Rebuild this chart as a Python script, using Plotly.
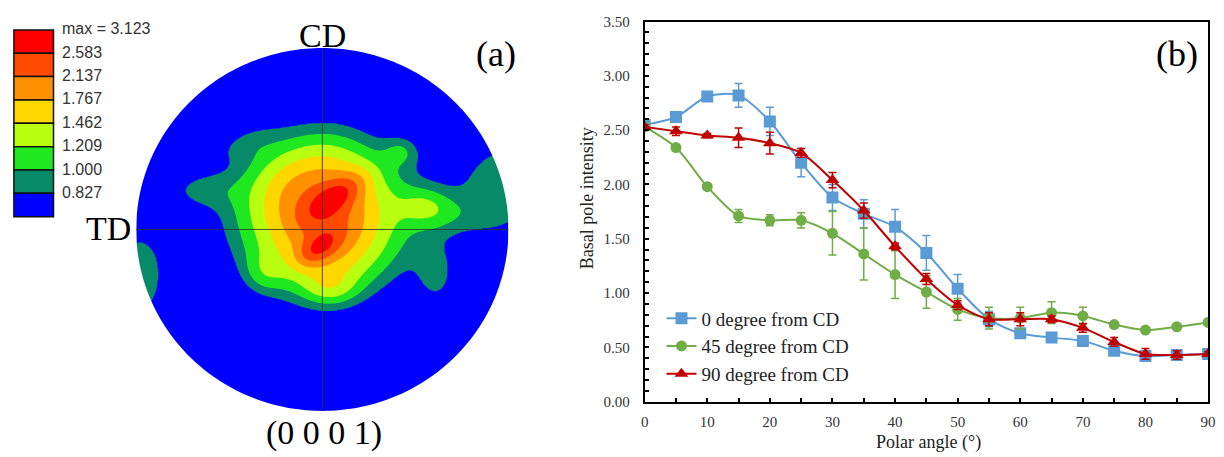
import numpy as np
import plotly.graph_objects as go

W, H = 1224, 457

# ---------------- Panel (a): (0001) pole figure ----------------
levels = [0.827, 1.000, 1.209, 1.462, 1.767, 2.137, 2.583]
level_max = 3.123
level_colors = ["#0000FF", "#078A68", "#20E820", "#B8FF10", "#FFD700", "#FF9000", "#FF4A00", "#FF0000"]

# intensity components (centre x, centre y in units of the circle radius)
blob_x = [0.003, 0.019, 0.072, -0.019, -0.221, -0.680, 0.428, 0.976, 0.684, 0.620, -0.992,
          0.551, -0.434, -0.316, 0.045]
blob_y = [0.077, 0.077, 0.184, -0.104, 0.237, 0.221, 0.434, 0.237, 0.077, -0.280, -0.269,
          0.130, 0.476, -0.242, -0.322]
blob_amp = [1.40, 0.65, 0.80, 0.80, 0.18, 0.33, 0.30, 0.60, 0.20, 0.36, 0.64,
            0.35, 0.22, 0.25, 0.30]
blob_sx = [0.380, 0.160, 0.117, 0.085, 0.133, 0.140, 0.070, 0.200, 0.133, 0.085, 0.138,
           0.096, 0.133, 0.080, 0.096]
blob_sy = [0.340, 0.239, 0.053, 0.048, 0.149, 0.080, 0.060, 0.280, 0.080, 0.140, 0.261,
           0.074, 0.064, 0.080, 0.064]
blob_ang = [0, 0, 35, 34, 0, 0, 0, 0, 0, 0, 0, 0, 20, 0, 0]
background = 0.30

# ---------------- Panel (b): basal pole intensity ----------------
polar_angle = [0, 5, 10, 15, 20, 25, 30, 35, 40, 45, 50, 55, 60, 65, 70, 75, 80, 85, 90]
cd0 = [2.55, 2.62, 2.81, 2.82, 2.58, 2.20, 1.88, 1.73, 1.61, 1.37, 1.04, 0.76, 0.63, 0.59, 0.56, 0.47, 0.42, 0.43, 0.44]
cd0_err = [0.02, 0.02, 0.03, 0.11, 0.13, 0.13, 0.12, 0.13, 0.16, 0.16, 0.13, 0.07, 0.02, 0.02, 0.02, 0.02, 0.02, 0.02, 0.02]
cd45 = [2.53, 2.34, 1.98, 1.71, 1.67, 1.67, 1.55, 1.36, 1.17, 1.01, 0.85, 0.77, 0.77, 0.82, 0.79, 0.71, 0.66, 0.69, 0.73]
cd45_err = [0.02, 0.02, 0.02, 0.06, 0.05, 0.07, 0.20, 0.24, 0.22, 0.15, 0.10, 0.10, 0.10, 0.10, 0.08, 0.02, 0.02, 0.02, 0.02]
cd90 = [2.53, 2.49, 2.45, 2.43, 2.38, 2.29, 2.04, 1.76, 1.43, 1.13, 0.89, 0.76, 0.76, 0.76, 0.68, 0.55, 0.44, 0.43, 0.44]
cd90_err = [0.02, 0.04, 0.02, 0.09, 0.10, 0.04, 0.07, 0.07, 0.03, 0.05, 0.04, 0.06, 0.06, 0.03, 0.04, 0.04, 0.05, 0.04, 0.02]
series_names = ["0 degree from CD", "45 degree from CD", "90 degree from CD"]
series_colors = ["#5B9BD5", "#70AD47", "#C00000"]
series_symbols = ["square", "circle", "triangle-up"]
series_sizes = [12, 11, 12]

SERIF = "Liberation Serif, Times New Roman, serif"
SANS = "Liberation Sans, Arial, sans-serif"

def px(x):
    return x / W

def py(y):
    return 1 - y / H

# build intensity field
g = np.linspace(-1, 1, 281)
X, Y = np.meshgrid(g, g)
Z = np.full_like(X, background)
for bx, by, a, sx, sy, ang in zip(blob_x, blob_y, blob_amp, blob_sx, blob_sy, blob_ang):
    t = np.deg2rad(ang)
    u = (X - bx) * np.cos(t) + (Y - by) * np.sin(t)
    v = -(X - bx) * np.sin(t) + (Y - by) * np.cos(t)
    Z += a * np.exp(-(u ** 2 / (2 * sx ** 2) + v ** 2 / (2 * sy ** 2)))

# map non-uniform levels onto an index scale so that plotly's uniform contours match
Zi = np.interp(Z, [0.0] + levels + [level_max, 10.0], list(range(len(levels) + 2)) + [len(levels) + 2])
nb = len(level_colors)
cscale = []
for j, c in enumerate(level_colors):
    cscale.append([j / nb, c])
    cscale.append([(j + 1) / nb, c])

fig = go.Figure()
fig.add_trace(go.Contour(
    x=g, y=g, z=Zi, xaxis="x", yaxis="y",
    autocontour=False,
    contours=dict(start=1, end=len(levels), size=1, coloring="fill", showlines=False),
    line=dict(width=0),
    colorscale=cscale, showscale=False, hoverinfo="skip", showlegend=False,
))

for name, yv, ev, col, sym, sz in zip(series_names, [cd0, cd45, cd90], [cd0_err, cd45_err, cd90_err],
                                        series_colors, series_symbols, series_sizes):
    fig.add_trace(go.Scatter(
        x=polar_angle, y=yv, name=name, xaxis="x2", yaxis="y2",
        mode="lines+markers", legendgroup=name,
        line=dict(color=col, width=2, shape="spline", smoothing=0.8),
        marker=dict(symbol=sym, size=sz, color=col),
        error_y=dict(type="data", array=ev, visible=True, color=col, thickness=1.5, width=4),
    ))

# mask outside the circle
th = np.linspace(0, 2 * np.pi, 289)
circ = " ".join(("M" if i == 0 else "L") + f"{np.cos(a):.5f},{np.sin(a):.5f}" for i, a in enumerate(th)) + " Z"
mask = "M-1.3,-1.3 L1.3,-1.3 L1.3,1.3 L-1.3,1.3 Z " + circ

shapes = [
    dict(type="path", path=mask, xref="x", yref="y", fillcolor="white", line=dict(width=0),
         fillrule="evenodd", layer="above"),
    dict(type="line", xref="x", yref="y", x0=-1, x1=1, y0=0, y1=0,
         line=dict(color="rgba(50,50,50,0.85)", width=1), layer="above"),
    dict(type="line", xref="x", yref="y", x0=0, x1=0, y0=-1, y1=1,
         line=dict(color="rgba(50,50,50,0.85)", width=1), layer="above"),
]

# colour legend boxes for panel (a)
box_top, box_h = 22.7, 24.2
legend_labels = [f"max = {level_max:.3f}"] + [f"{v:.3f}" for v in reversed(levels)]
for i, c in enumerate(reversed(level_colors)):
    shapes.append(dict(type="rect", xref="paper", yref="paper",
                       x0=px(10), x1=px(50), y0=py(box_top + i * box_h), y1=py(box_top + (i + 1) * box_h),
                       fillcolor=c, line=dict(color="#111", width=1.5)))

annotations = []
for i, t in enumerate(legend_labels):
    annotations.append(dict(text=t, xref="paper", yref="paper", x=px(57), y=py(box_top + i * box_h - 1),
                            xanchor="left", yanchor="middle", showarrow=False,
                            font=dict(family=SANS, size=16, color="#333")))

def ann(text, x, y, size, xanchor="center", angle=0, color="black"):
    annotations.append(dict(text=text, xref="paper", yref="paper", x=px(x), y=py(y), xanchor=xanchor,
                            yanchor="middle", showarrow=False, textangle=angle,
                            font=dict(family=SERIF, size=size, color=color)))

ann("CD", 322, 28, 34)
ann("TD", 106, 229, 34)
ann("(a)", 497, 48, 36)
ann("(0 0 0 1)", 323, 440, 34)
ann("(b)", 1185, 48, 36)
ann("Polar angle (°)", 934, 450, 18, color="#222")
ann("Basal pole intensity", 589, 197, 18, angle=-90, color="#222")

# pole-figure axes: circle radius 188 px = 1 unit, axis range padded so the mask edge sits outside
cx, cy, R, pad = 321.5, 229.5, 188.0, 1.04
tickfont = dict(family=SERIF, size=15, color="#333")
fig.update_layout(
    width=W, height=H, margin=dict(l=0, r=0, t=0, b=0),
    paper_bgcolor="white", plot_bgcolor="white",
    showlegend=True,
    xaxis=dict(domain=[px(cx - R * pad), px(cx + R * pad)], range=[-pad, pad], visible=False, fixedrange=True),
    yaxis=dict(domain=[py(cy + R * pad), py(cy - R * pad)], range=[-pad, pad], visible=False, fixedrange=True),
    xaxis2=dict(domain=[px(647), px(1216)], range=[0, 90], anchor="y2",
                showline=True, linecolor="black", linewidth=2, mirror=True,
                ticks="inside", ticklen=4, tickwidth=1.5, tickcolor="black", dtick=10, tick0=0,
                minor=dict(dtick=5, ticks="inside", ticklen=4, tickwidth=1.5, tickcolor="black"),
                showgrid=False, zeroline=False, tickfont=tickfont, ticklabelstandoff=5),
    yaxis2=dict(domain=[py(408), py(14)], range=[0, 3.5], anchor="x2",
                showline=True, linecolor="black", linewidth=2, mirror=True,
                ticks="inside", ticklen=4, tickwidth=1.5, tickcolor="black", dtick=0.5, tick0=0,
                tickformat=".2f",
                minor=dict(dtick=0.1, ticks="inside", ticklen=4, tickwidth=1.5, tickcolor="black"),
                showgrid=False, zeroline=False, tickfont=tickfont, ticklabelstandoff=10),
    legend=dict(x=px(664), y=py(302), xanchor="left", yanchor="top",
                bgcolor="rgba(0,0,0,0)", font=dict(family=SERIF, size=19, color="#222"),
                tracegroupgap=0),
    shapes=shapes, annotations=annotations,
)

fig.write_html("out.html")
